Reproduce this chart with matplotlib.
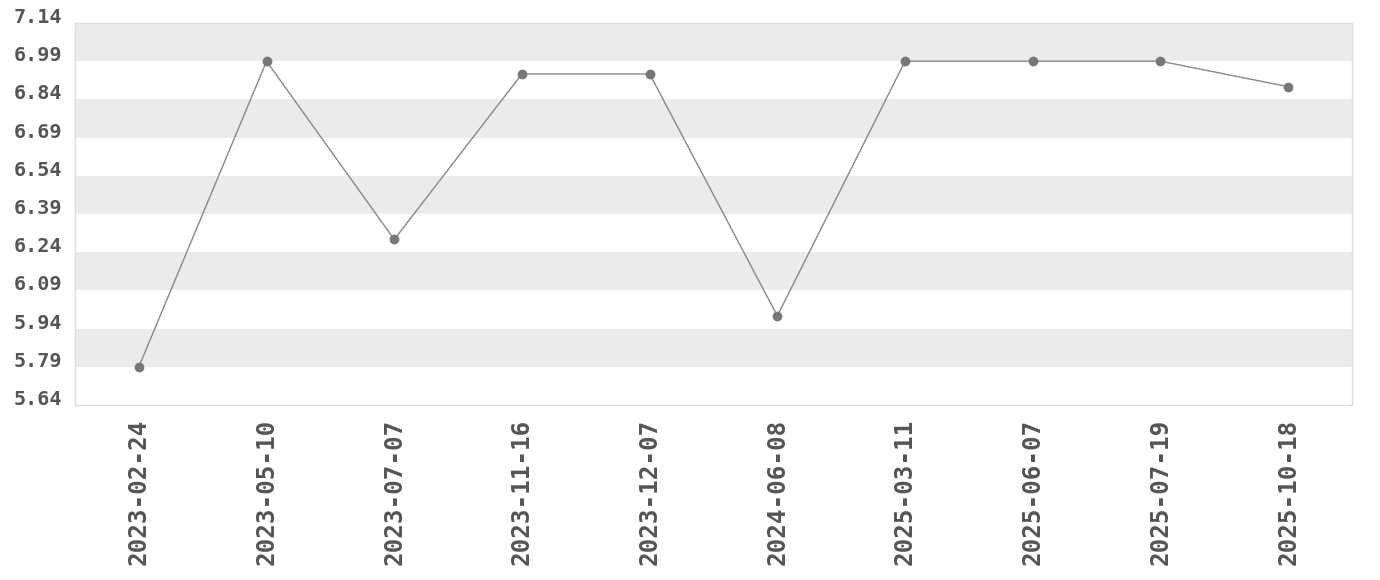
import matplotlib
matplotlib.use("Agg")
import matplotlib.pyplot as plt
import numpy as np

dates = ["2023-02-24", "2023-05-10", "2023-07-07", "2023-11-16", "2023-12-07",
         "2024-06-08", "2025-03-11", "2025-06-07", "2025-07-19", "2025-10-18"]
values = [5.79, 6.99, 6.29, 6.94, 6.94, 5.99, 6.99, 6.99, 6.99, 6.89]
y_ticks = [5.64, 5.79, 5.94, 6.09, 6.24, 6.39, 6.54, 6.69, 6.84, 6.99, 7.14]

fig = plt.figure(figsize=(13.8, 5.8), dpi=100)
ax = fig.add_axes([75 / 1380, 1 - 405 / 580, (1352 - 75) / 1380, (405 - 23) / 580])

# alternating grey bands, starting from the top
for i in range(len(y_ticks) - 1):
    if (len(y_ticks) - 2 - i) % 2 == 0:
        ax.axhspan(y_ticks[i], y_ticks[i + 1], color="#ebebeb", lw=0, zorder=0)

x = np.arange(len(dates))
ax.plot(x, values, color="#888888", lw=1, marker="o", markersize=6,
        markerfacecolor="#777777", markeredgecolor="#777777", zorder=3)

ax.set_xlim(-0.5, len(dates) - 0.5)
ax.set_ylim(y_ticks[0], y_ticks[-1])
ax.set_yticks(y_ticks)
ax.set_yticklabels([f"{t:.2f}" for t in y_ticks])
ax.set_xticks(x)
ax.set_xticklabels(dates, rotation=90)

for lab in ax.get_yticklabels():
    lab.set_fontfamily("DejaVu Sans Mono")
    lab.set_fontweight("bold")
    lab.set_fontsize(14.5)
    lab.set_color("#555555")
    lab.set_verticalalignment("baseline")
for lab in ax.get_xticklabels():
    lab.set_fontfamily("DejaVu Sans Mono")
    lab.set_fontweight("bold")
    lab.set_fontsize(17.5)
    lab.set_color("#555555")

ax.tick_params(axis="y", length=0, pad=9)
ax.tick_params(axis="x", length=0, pad=10)
for s in ax.spines.values():
    s.set_color("#dddddd")
    s.set_linewidth(1)

fig.savefig("out.png", dpi=100)
